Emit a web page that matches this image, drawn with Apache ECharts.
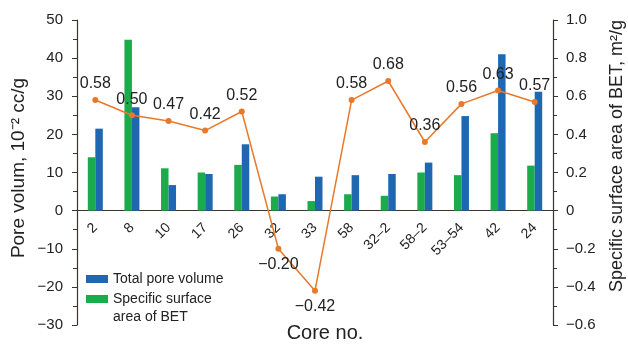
<!DOCTYPE html>
<html><head><meta charset="utf-8">
<script src="https://cdn.jsdelivr.net/npm/echarts@6/dist/echarts.min.js"></script>
<style>html,body{margin:0;padding:0;background:#fff}#c{width:628px;height:345px}</style>
</head><body><div id="c"></div>
<script>
const categories = ['2','8','10','17','26','32','33','58','32–2','58–2','53–54','42','24'];
const totalPoreVolume = [21.5, 27.1, 6.7, 9.6, 17.4, 4.3, 8.9, 9.3, 9.6, 12.6, 24.8, 41.0, 31.2];
const specificSurfaceBars = [14.0, 44.8, 11.1, 10.0, 12.0, 3.7, 2.5, 4.3, 3.9, 10.0, 9.3, 20.3, 11.8];
const lineValues = [0.58, 0.50, 0.47, 0.42, 0.52, -0.20, -0.42, 0.58, 0.68, 0.36, 0.56, 0.63, 0.57];
const leftTicks = {min: -30, max: 50, interval: 10};
const rightTicks = {min: -0.6, max: 1.0, interval: 0.2};

const axisColor = '#3b3330';
const font = 'Liberation Sans, Arial, sans-serif';
const chart = echarts.init(document.getElementById('c'), null, {renderer: 'canvas'});
const option = {
  animation: false,
  textStyle: {fontFamily: font},
  grid: {left: 77, right: 75, top: 20, bottom: 20, outerBoundsMode: 'none', containLabel: false},
  legend: {
    orient: 'vertical', left: 86, top: 270, height: 120, itemWidth: 22, itemHeight: 8, itemGap: -16, padding: 0,
    textStyle: {fontSize: 14, color: '#222', fontFamily: font, lineHeight: 18},
    formatter: name => name.indexOf('\n') >= 0 ? ' \n' + name : name,
    data: [
      {name: 'Total pore volume', icon: 'rect'},
      {name: 'Specific surface\narea of BET', icon: 'rect'}
    ]
  },
  xAxis: {
    type: 'category', data: categories,
    axisLine: {onZero: true, lineStyle: {color: axisColor, width: 1.2}},
    axisTick: {show: false},
    axisLabel: {rotate: 45, fontSize: 14, color: '#222', margin: 15, interval: 0}
  },
  yAxis: [{
    type: 'value', min: leftTicks.min, max: leftTicks.max, interval: leftTicks.interval,
    splitLine: {show: false},
    axisLine: {show: true, lineStyle: {color: axisColor, width: 1.2}},
    axisTick: {show: true, length: 5, lineStyle: {color: axisColor}},
    minorTick: {show: true, splitNumber: 2, length: 4, lineStyle: {color: axisColor}},
    axisLabel: {fontSize: 15, color: '#222', margin: 14, formatter: v => v < 0 ? '−' + Math.abs(v) : String(v)}
  }, {
    type: 'value', min: rightTicks.min, max: rightTicks.max, interval: rightTicks.interval,
    position: 'right',
    splitLine: {show: false},
    axisLine: {show: true, lineStyle: {color: axisColor, width: 1.2}},
    axisTick: {show: true, length: 5, lineStyle: {color: axisColor}},
    minorTick: {show: true, splitNumber: 2, length: 4, lineStyle: {color: axisColor}},
    axisLabel: {fontSize: 15, color: '#222', margin: 13, formatter: v => {
      const r = Math.round(v * 10) / 10;
      if (r === 0) return '0';
      const s = Math.abs(r).toFixed(1);
      return r < 0 ? '−' + s : s;
    }}
  }],
  series: [{
    name: 'Specific surface\narea of BET', type: 'bar', data: specificSurfaceBars,
    barWidth: 7.5, barGap: '0%', itemStyle: {color: '#1aab4b'}
  }, {
    name: 'Total pore volume', type: 'bar', data: totalPoreVolume,
    barWidth: 7.5, barGap: '0%', itemStyle: {color: '#1f67b1'}
  }, {
    name: 'line', type: 'line', yAxisIndex: 1,
    data: lineValues.map(v => ({value: v, label: {position: v < 0 ? 'bottom' : 'top'}})),
    symbol: 'circle', symbolSize: 6,
    lineStyle: {color: '#e8792b', width: 1.5},
    itemStyle: {color: '#e8792b'},
    label: {show: true, fontSize: 16, color: '#222', distance: 5,
      formatter: p => (p.value < 0 ? '−' : '') + Math.abs(p.value).toFixed(2)}
  }],
  graphic: [
    {type: 'text', x: 19, y: 168, rotation: Math.PI / 2,
      style: {text: 'Pore volum, 10⁻² cc/g', fontSize: 19, fontFamily: font, fill: '#222', align: 'center', verticalAlign: 'middle'}},
    {type: 'text', x: 617, y: 156, rotation: Math.PI / 2,
      style: {text: 'Specific surface area of BET, m²/g', fontSize: 18, fontFamily: font, fill: '#222', align: 'center', verticalAlign: 'middle'}},
    {type: 'text', x: 325, y: 333,
      style: {text: 'Core no.', fontSize: 20, fontFamily: font, fill: '#222', align: 'center', verticalAlign: 'middle'}}
  ]
};
chart.setOption(option);
// Move the category axis (line and labels) so it sits on the zero line.
const zeroY = chart.convertToPixel({yAxisIndex: 0}, 0);
const bottomY = chart.convertToPixel({yAxisIndex: 0}, leftTicks.min);
chart.setOption({xAxis: {axisLine: {onZero: false}, offset: -(bottomY - zeroY)}});
</script></body></html>
